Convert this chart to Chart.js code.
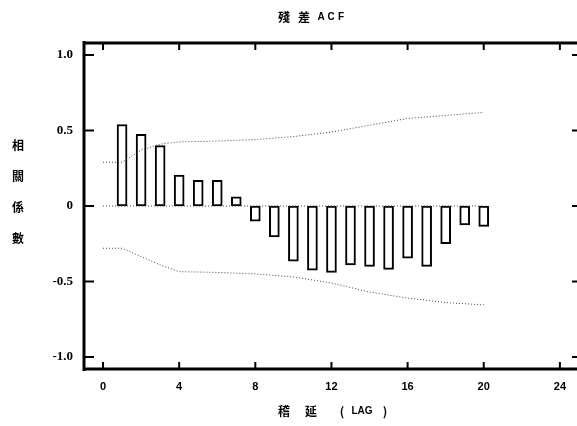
<!DOCTYPE html>
<html>
<head>
<meta charset="utf-8">
<script src="https://cdn.jsdelivr.net/npm/chart.js@4"></script>
<style>
  html, body { margin: 0; padding: 0; background: #fff; }
  #wrap { width: 577px; height: 426px; }
</style>
</head>
<body>
<div id="wrap"><canvas id="acf" width="577" height="426"></canvas></div>
<script>
// Datos: ACF de residuos por rezago
const lags = [1, 2, 3, 4, 5, 6, 7, 8, 9, 10, 11, 12, 13, 14, 15, 16, 17, 18, 19, 20];
const acf = [0.54, 0.475, 0.40, 0.205, 0.17, 0.17, 0.06, -0.10, -0.205, -0.365,
             -0.425, -0.44, -0.39, -0.40, -0.42, -0.345, -0.40, -0.25, -0.125, -0.135];

// Bandas de confianza
const bandLags = [0, 1, 2, 3, 4, 6, 8, 10, 12, 14, 16, 18, 20];
const upper = [0.29, 0.29, 0.37, 0.41, 0.425, 0.43, 0.44, 0.46, 0.49, 0.535, 0.58, 0.60, 0.62];
const lower = [-0.28, -0.28, -0.335, -0.39, -0.435, -0.44, -0.45, -0.47, -0.51, -0.57, -0.61, -0.64, -0.655];

const zeroLags = [0, 20];
const zeroVals = [0, 0];

const xTicks = [0, 4, 8, 12, 16, 20, 24];
const yTicks = [-1, -0.5, 0, 0.5, 1];
const yTickLabels = ['-1.0', '-0.5', '0', '0.5', '1.0'];

const tituloChars = ['殘', '差', 'A', 'C', 'F'];
const ejeYChars = ['相', '關', '係', '數'];
const ejeXChars = ['稽', '延', '(', 'LAG', ')'];

const pares = (xs, ys) => xs.map((x, i) => ({ x: x, y: ys[i] }));
const punteado = (xs, ys) => ({
    type: 'line', data: pares(xs, ys), borderColor: '#444', borderWidth: 1,
    borderDash: [1, 2], pointRadius: 0, tension: 0, fill: false
});

const cjk = '"Noto Sans CJK TC", "Noto Sans CJK SC", sans-serif';

// Marco, marcas interiores y textos
const marco = {
    id: 'marco',
    afterDraw(chart) {
        const ctx = chart.ctx;
        const xs = chart.scales.x, ys = chart.scales.y;
        const L = 84, T = 43, B = 369, R = 577;
        ctx.save();
        ctx.strokeStyle = '#000';
        ctx.lineCap = 'butt';
        ctx.lineWidth = 3;
        ctx.beginPath();
        ctx.moveTo(L, T - 2); ctx.lineTo(L, B + 2);
        ctx.moveTo(L - 1, T); ctx.lineTo(R, T);
        ctx.moveTo(L - 1, B); ctx.lineTo(R, B);
        ctx.stroke();

        ctx.lineWidth = 2;
        ctx.beginPath();
        yTicks.forEach(v => {
            const y = ys.getPixelForValue(v);
            ctx.moveTo(L, y); ctx.lineTo(L + 10, y);
            ctx.moveTo(R - 5, y); ctx.lineTo(R, y);
        });
        xTicks.forEach(v => {
            const x = xs.getPixelForValue(v);
            ctx.moveTo(x, B); ctx.lineTo(x, B - 7);
            ctx.moveTo(x, T); ctx.lineTo(x, T + 7);
        });
        ctx.stroke();

        ctx.fillStyle = '#000';
        ctx.textAlign = 'center';
        ctx.textBaseline = 'middle';
        ctx.font = 'bold 12px ' + cjk;
        const tx = [284, 304, 321, 331, 341];
        tituloChars.forEach((c, i) => {
            ctx.font = (i < 2 ? 'bold 12px ' + cjk : 'bold 10px "Liberation Sans", sans-serif');
            ctx.fillText(c, tx[i], 17);
        });
        ctx.font = 'bold 12px ' + cjk;
        const yy = [145, 176, 207, 238];
        ejeYChars.forEach((c, i) => ctx.fillText(c, 18, yy[i]));
        const ex = [284, 311, 342, 362, 385];
        ejeXChars.forEach((c, i) => {
            ctx.font = (c === 'LAG' ? 'bold 10px "Liberation Sans", sans-serif' : 'bold 12px ' + cjk);
            ctx.fillText(c, ex[i], 411);
        });
        ctx.restore();
    }
};

new Chart(document.getElementById('acf'), {
    type: 'bar',
    data: {
        datasets: [
            punteado(zeroLags, zeroVals),
            punteado(bandLags, upper),
            punteado(bandLags, lower),
            {
                type: 'bar', data: pares(lags, acf),
                backgroundColor: '#fff', borderColor: '#000', borderWidth: 2,
                barThickness: 10, borderSkipped: false
            }
        ]
    },
    options: {
        responsive: false,
        animation: false,
        layout: { padding: { top: 43, right: 0, left: 0, bottom: 0 } },
        plugins: { legend: { display: false }, tooltip: { enabled: false } },
        scales: {
            x: {
                type: 'linear', min: -1, max: 24.85, offset: false,
                grid: { display: false, drawTicks: false },
                border: { display: false },
                afterBuildTicks: s => { s.ticks = xTicks.map(v => ({ value: v })); },
                afterFit: s => { s.height = 57; },
                ticks: {
                    padding: 11, color: '#000',
                    font: { family: '"Liberation Sans", sans-serif', weight: 'bold', size: 11 },
                    callback: v => String(v)
                }
            },
            y: {
                min: -1.08, max: 1.08,
                grid: { display: false, drawTicks: false },
                border: { display: false },
                afterBuildTicks: s => { s.ticks = yTicks.map(v => ({ value: v })); },
                afterFit: s => { s.width = 84; },
                ticks: {
                    padding: 11, color: '#000',
                    font: { family: '"Liberation Serif", serif', weight: 'bold', size: 13 },
                    callback: v => yTickLabels[yTicks.indexOf(v)]
                }
            }
        }
    },
    plugins: [marco]
});
</script>
</body>
</html>
